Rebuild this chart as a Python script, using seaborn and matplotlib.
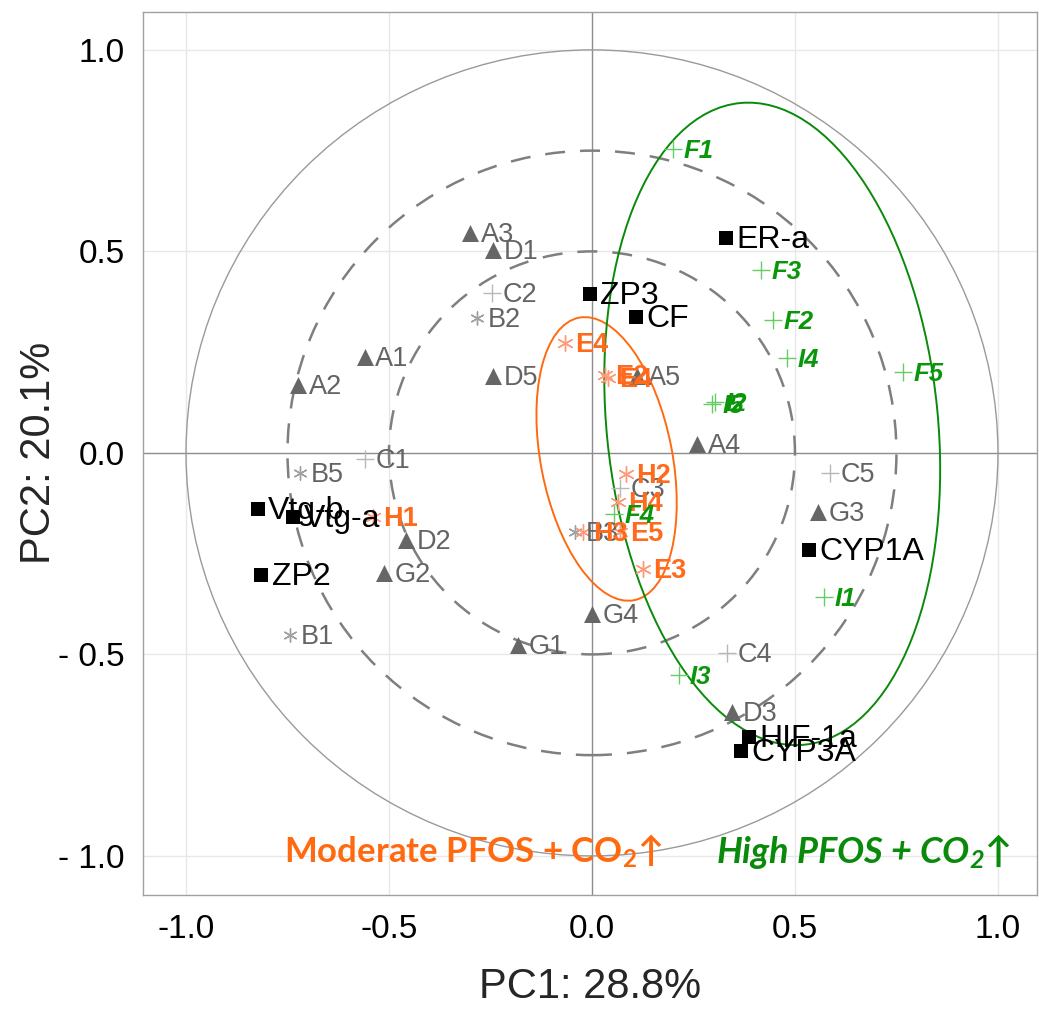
import numpy as np
import pandas as pd
import matplotlib
matplotlib.use("Agg")
import matplotlib.pyplot as plt
from matplotlib.patches import Ellipse, Circle
import seaborn as sns

# ---------------- data ----------------
tri_labels = ["A1", "A2", "A3", "A4", "A5", "D1", "D2", "D3", "D5", "G1", "G2", "G3", "G4"]
tri_x = [-0.559, -0.724, -0.300, 0.259, 0.111, -0.244, -0.458, 0.345, -0.244, -0.182, -0.512, 0.557, 0.000]
tri_y = [0.238, 0.169, 0.546, 0.022, 0.191, 0.504, -0.216, -0.643, 0.191, -0.476, -0.298, -0.146, -0.400]

star_labels = ["B1", "B2", "B3", "B5"]
star_x = [-0.744, -0.283, -0.042, -0.719]
star_y = [-0.452, 0.335, -0.196, -0.050]

plus_labels = ["C1", "C2", "C3", "C4", "C5"]
plus_x = [-0.559, -0.246, 0.069, 0.333, 0.586]
plus_y = [-0.015, 0.397, -0.087, -0.496, -0.050]

gene_labels = ["ER-a", "ZP3", "CF", "Vtg-b", "Vtg-a", "ZP2", "CYP1A", "HIF-1a", "CYP3A"]
gene_x = [0.330, -0.005, 0.108, -0.823, -0.736, -0.815, 0.534, 0.387, 0.367]
gene_y = [0.533, 0.395, 0.337, -0.139, -0.159, -0.303, -0.241, -0.705, -0.739]

mod_labels = ["E4", "E2", "E4", "E5", "E3", "H1", "H2", "H3", "H4"]
mod_x = [-0.066, 0.032, 0.040, 0.069, 0.126, -0.539, 0.084, -0.022, 0.064]
mod_y = [0.273, 0.193, 0.187, -0.197, -0.288, -0.159, -0.052, -0.196, -0.122]

high_labels = ["F1", "F2", "F3", "F4", "F5", "I1", "I2", "I3", "I4", "I5"]
high_x = [0.200, 0.446, 0.416, 0.054, 0.766, 0.571, 0.303, 0.214, 0.480, 0.296]
high_y = [0.754, 0.330, 0.454, -0.151, 0.201, -0.357, 0.127, -0.551, 0.236, 0.122]

x_ticks = [-1.0, -0.5, 0.0, 0.5, 1.0]
x_tick_labels = ["-1.0", "-0.5", "0.0", "0.5", "1.0"]
y_ticks = [-1.0, -0.5, 0.0, 0.5, 1.0]
y_tick_labels = ["- 1.0", "- 0.5", "0.0", "0.5", "1.0"]

circle_radii = [1.0, 0.75, 0.5]

# ellipses: centre x, centre y, width (minor), height (major), angle
mod_ellipse = (0.036, -0.015, 0.324, 0.714, 10.9)
high_ellipse = (0.444, 0.072, 0.816, 1.60, 5.7)

x_title = "PC1: 28.8%"
y_title = "PC2: 20.1%"

# ---------------- style ----------------
sns.set_style("white")
plt.rcParams["font.family"] = ["Liberation Sans", "DejaVu Sans"]
plt.rcParams["mathtext.fontset"] = "custom"
plt.rcParams["mathtext.rm"] = "Lato"
plt.rcParams["mathtext.bf"] = "Lato:bold"
plt.rcParams["mathtext.it"] = "Lato:italic"
plt.rcParams["mathtext.bfit"] = "Lato:italic:bold"

GRAY_TXT = "#646464"
ORANGE_TXT = "#FF6A1C"
ORANGE_MK = "#FF9A78"
GREEN_TXT = "#0A960A"
GREEN_MK = "#66CC66"

fig = plt.figure(figsize=(10.39, 10.09), dpi=100)
ax = fig.add_axes([0.1376, 0.113, 0.8604, 0.8755])
ax.set_xlim(-1.106, 1.096)
ax.set_ylim(-1.097, 1.095)

# grid lines and zero axes
for v in [-1.0, -0.5, 0.5, 1.0]:
    ax.axvline(v, color="#E8E8E8", lw=1.0, zorder=0)
    ax.axhline(v, color="#E8E8E8", lw=1.0, zorder=0)
ax.axvline(0, color="#8C8C8C", lw=1.0, zorder=1)
ax.axhline(0, color="#8C8C8C", lw=1.0, zorder=1)

# circles
ax.add_patch(Circle((0, 0), circle_radii[0], fill=False, ec="#9A9A9A", lw=1.0, zorder=1))
for r in circle_radii[1:]:
    ax.add_patch(Circle((0, 0), r, fill=False, ec="#7F7F7F", lw=1.8,
                        linestyle=(0, (8, 6)), zorder=1))

# ellipses
cx, cy, w, h, a = mod_ellipse
ax.add_patch(Ellipse((cx, cy), w, h, angle=a, fill=False, ec="#FF6A10", lw=1.4, zorder=2))
cx, cy, w, h, a = high_ellipse
ax.add_patch(Ellipse((cx, cy), w, h, angle=a, fill=False, ec="#0A8A0A", lw=1.4, zorder=2))

# markers
sns.scatterplot(x=tri_x, y=tri_y, marker="^", s=150, color="#666666", linewidth=0, ax=ax, zorder=3)
sns.scatterplot(x=star_x, y=star_y, marker=(6, 2, 0), s=90, color="#A0A0A0", linewidth=1.0, ax=ax, zorder=3)
sns.scatterplot(x=plus_x, y=plus_y, marker="+", s=150, color="#B8B8B8", linewidth=1.0, ax=ax, zorder=3)
sns.scatterplot(x=mod_x, y=mod_y, marker=(6, 2, 0), s=130, color=ORANGE_MK, linewidth=1.0, ax=ax, zorder=3)
sns.scatterplot(x=high_x, y=high_y, marker="+", s=150, color=GREEN_MK, linewidth=1.0, ax=ax, zorder=3)
sns.scatterplot(x=gene_x, y=gene_y, marker="s", s=90, color="black", linewidth=0, ax=ax, zorder=4)

def put_labels(labels, xs, ys, **kw):
    for lab, x, y in zip(labels, xs, ys):
        ax.annotate(lab, (x, y), xytext=(7.5, -1.5), textcoords="offset points",
                    ha="left", va="center", zorder=5, **kw)

put_labels(tri_labels, tri_x, tri_y, fontsize=19.5, color=GRAY_TXT)
put_labels(star_labels, star_x, star_y, fontsize=19.5, color=GRAY_TXT)
put_labels(plus_labels, plus_x, plus_y, fontsize=19.5, color=GRAY_TXT)
put_labels(mod_labels, mod_x, mod_y, fontsize=19.5, color=ORANGE_TXT, fontweight="bold")
put_labels(high_labels, high_x, high_y, fontsize=18.5, color=GREEN_TXT, fontweight="bold", fontstyle="italic")
put_labels(gene_labels, gene_x, gene_y, fontsize=23, color="black")

# group annotations
ax.text(-0.758, -1.017, r"Moderate PFOS + CO$_{\mathbf{2}}$↑", color="#FF6A10",
        fontsize=25, fontweight="bold", family=["Lato", "DejaVu Sans"], ha="left", va="baseline", zorder=6)
ax.text(0.305, -1.017, r"High PFOS + CO$_{\mathbfit{2}}$↑", color="#0A8A0A",
        fontsize=26, fontweight="bold", fontstyle="italic", family=["Lato", "DejaVu Sans"],
        ha="left", va="baseline", zorder=6)

# axes, ticks
ax.set_xticks(x_ticks)
ax.set_xticklabels(x_tick_labels)
ax.set_yticks(y_ticks)
ax.set_yticklabels(y_tick_labels)
ax.tick_params(axis="both", which="both", direction="out", length=4, width=1,
               color="#999999", labelsize=24, labelcolor="black")
ax.tick_params(axis="x", pad=10)
ax.tick_params(axis="y", pad=9)
for sp in ax.spines.values():
    sp.set_color("#A0A0A0")
    sp.set_linewidth(1.0)

ax.set_xlabel(x_title, fontsize=30)
ax.set_ylabel(y_title, fontsize=30)
ax.xaxis.set_label_coords(0.5, -0.082)
ax.yaxis.set_label_coords(-0.094, 0.5)

fig.savefig("out.png", dpi=100)
